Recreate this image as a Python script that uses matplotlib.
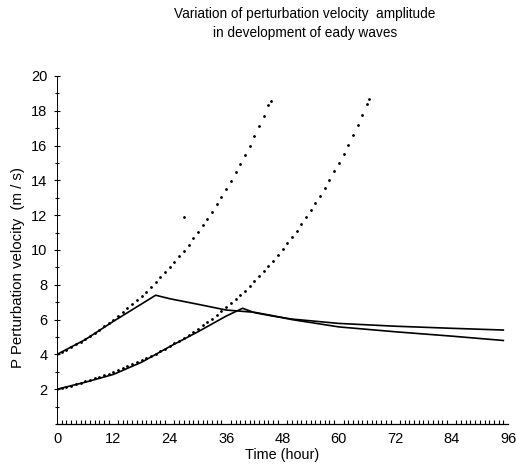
import numpy as np
import matplotlib
matplotlib.use("Agg")
import matplotlib.pyplot as plt
from matplotlib.ticker import MultipleLocator

plt.rcParams['font.family'] = ['Liberation Sans', 'DejaVu Sans']

# solid curves
hours_a = [0, 6, 12, 18, 21, 24, 30, 36, 42, 46, 50, 60, 72, 84, 95]
vel_a = [4.0, 4.85, 5.9, 6.9, 7.4, 7.2, 6.88, 6.55, 6.42, 6.22, 6.0, 5.58, 5.3, 5.05, 4.8]

hours_b = [0, 6, 12, 18, 24, 30, 36, 39.5, 42, 46, 50, 60, 72, 84, 95]
vel_b = [2.0, 2.4, 2.85, 3.55, 4.45, 5.3, 6.2, 6.65, 6.4, 6.2, 6.03, 5.78, 5.62, 5.5, 5.4]

# dotted curves
dot_hours_a = list(range(0, 46)) + [45.5]
dot_vel_a = [4.00, 4.14, 4.28, 4.43, 4.58, 4.74, 4.90, 5.07, 5.24, 5.42,
             5.61, 5.80, 6.00, 6.21, 6.42, 6.64, 6.87, 7.11, 7.35, 7.61,
             7.87, 8.14, 8.42, 8.71, 9.01, 9.32, 9.64, 9.97, 10.31, 10.67,
             11.03, 11.41, 11.80, 12.21, 12.63, 13.06, 13.51, 13.98, 14.46, 14.96,
             15.47, 16.00, 16.55, 17.12, 17.71, 18.32, 18.55]

dot_hours_b = list(range(0, 67)) + [66.5]
dot_vel_b = [2.00, 2.07, 2.14, 2.21, 2.29, 2.37, 2.45, 2.53, 2.62, 2.71,
             2.80, 2.89, 2.99, 3.10, 3.20, 3.31, 3.42, 3.54, 3.66, 3.79,
             3.92, 4.05, 4.19, 4.33, 4.48, 4.63, 4.79, 4.96, 5.12, 5.30,
             5.48, 5.67, 5.86, 6.06, 6.27, 6.48, 6.70, 6.93, 7.17, 7.42,
             7.67, 7.93, 8.20, 8.48, 8.77, 9.07, 9.38, 9.70, 10.03, 10.38,
             10.73, 11.10, 11.48, 11.87, 12.27, 12.69, 13.13, 13.57, 14.04, 14.52,
             15.01, 15.53, 16.06, 16.61, 17.17, 17.76, 18.37, 18.67]

stray_hour = [27]
stray_vel = [11.9]

x_ticks = [0, 12, 24, 36, 48, 60, 72, 84, 96]
y_ticks = [2, 4, 6, 8, 10, 12, 14, 16, 18, 20]

fig = plt.figure(figsize=(5.16, 4.66), dpi=100)
ax = fig.add_axes([0.1105, 0.0901, 0.874, 0.7469])

ax.plot(hours_a, vel_a, color='black', lw=1.2)
ax.plot(hours_b, vel_b, color='black', lw=1.2)
ax.plot(dot_hours_a, dot_vel_a, ls='none', marker='.', ms=2.0, color='black')
ax.plot(dot_hours_b, dot_vel_b, ls='none', marker='.', ms=2.0, color='black')
ax.plot(stray_hour, stray_vel, ls='none', marker='.', ms=2.0, color='black')

ax.set_xlim(0, 96)
ax.set_ylim(0, 20)
ax.set_xticks(x_ticks)
ax.set_yticks(y_ticks)
ax.xaxis.set_minor_locator(MultipleLocator(1))
ax.yaxis.set_minor_locator(MultipleLocator(1))
ax.tick_params(axis='x', which='major', length=0, pad=6, labelsize=10.5)
ax.tick_params(axis='x', which='minor', length=3, direction='in', width=0.8)
ax.tick_params(axis='y', which='major', length=4, direction='inout', pad=5, labelsize=10.5)
ax.tick_params(axis='y', which='minor', length=3, direction='inout', width=0.8)

for s in ['top', 'right']:
    ax.spines[s].set_visible(False)
ax.spines['left'].set_linewidth(0.7)
ax.spines['bottom'].set_linewidth(0.9)

ax.set_xlabel('Time (hour)', fontsize=10.4, labelpad=1)
fig.text(0.035, 0.425, 'P Perturbation velocity  (m / s)', rotation=90,
         ha='center', va='center', fontsize=10.8)

fig.text(0.591, 0.970, 'Variation of perturbation velocity  amplitude',
         ha='center', va='center', fontsize=9.8)
fig.text(0.591, 0.929, 'in development of eady waves',
         ha='center', va='center', fontsize=9.8)

fig.savefig('out.png', dpi=100)
